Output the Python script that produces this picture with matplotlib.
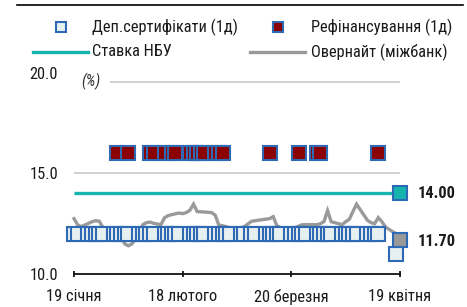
import matplotlib
matplotlib.use("Agg")
import matplotlib.pyplot as plt
import matplotlib.dates as mdates
from matplotlib import font_manager
from matplotlib.ft2font import FT2Font
from matplotlib.lines import Line2D
import pandas as pd


def pick_font():
    prefs = ["Roboto Condensed", "PT Sans Narrow", "Arial Narrow", "Liberation Sans Narrow",
             "Fira Sans Condensed", "IBM Plex Sans Condensed", "Open Sans Condensed",
             "Encode Sans Condensed", "Archivo Narrow", "Asap Condensed", "Barlow Condensed",
             "Barlow Semi Condensed", "Noto Sans", "Open Sans", "Roboto"]
    cands = {}
    for f in font_manager.fontManager.ttflist:
        if f.style != "normal":
            continue
        try:
            cm = FT2Font(f.fname).get_charmap()
        except Exception:
            continue
        if ord("ф") not in cm or ord("і") not in cm:
            continue
        cands.setdefault((f.name, f.stretch), []).append(f)
    for p in prefs:
        for (n, s), fl in cands.items():
            if n == p and s != "normal":
                return n, s
        for (n, s), fl in cands.items():
            if n == p and ("Narrow" in n or "Condensed" in n):
                return n, s
    for (n, s), fl in cands.items():
        if "condensed" in str(s) or "Narrow" in n or "Condensed" in n:
            return n, s
    return "DejaVu Sans", "condensed"


FONT, STRETCH = pick_font()
plt.rcParams['font.family'] = [FONT, 'DejaVu Sans']
plt.rcParams['font.stretch'] = STRETCH

# ---------------- data ----------------
start_date = "2017-01-19"
end_date = "2017-04-19"
tick_dates = ["2017-01-19", "2017-02-18", "2017-03-20", "2017-04-19"]
tick_labels = ["19 січня", "18 лютого", "20 березня", "19 квітня"]
y_ticks = [10.0, 15.0, 20.0]
y_tick_labels = ["10.0", "15.0", "20.0"]

# Deposit certificates (1d): business days, rate 12.0, then 11.0 at the end
cd_holidays = ["2017-03-08"]
cd_first, cd_last = "2017-01-19", "2017-04-13"
cd_rate = 12.0
cd_end_date, cd_end_rate = "2017-04-18", 11.0

# Refinancing (1d) at 16.0
refi_dates = ["2017-01-31", "2017-02-03", "2017-02-09", "2017-02-10", "2017-02-13",
              "2017-02-15", "2017-02-16", "2017-02-20", "2017-02-21", "2017-02-22",
              "2017-02-23", "2017-02-24", "2017-02-27", "2017-02-28", "2017-03-01",
              "2017-03-14", "2017-03-22", "2017-03-27", "2017-03-28", "2017-04-13"]
refi_rate = 16.0

# NBU key rate
nbu_rate = 14.00

# Overnight interbank
on_dates = ["2017-01-19", "2017-01-20", "2017-01-21", "2017-01-24", "2017-01-25",
            "2017-01-26", "2017-01-27", "2017-01-30", "2017-02-01", "2017-02-02",
            "2017-02-03", "2017-02-04", "2017-02-06", "2017-02-07", "2017-02-08",
            "2017-02-09", "2017-02-10", "2017-02-12", "2017-02-13", "2017-02-14",
            "2017-02-15", "2017-02-17", "2017-02-18", "2017-02-19", "2017-02-20",
            "2017-02-21", "2017-02-22", "2017-02-24", "2017-02-26", "2017-02-27",
            "2017-02-28", "2017-03-01", "2017-03-03", "2017-03-06", "2017-03-07",
            "2017-03-09", "2017-03-12", "2017-03-14", "2017-03-15", "2017-03-16",
            "2017-03-17", "2017-03-21", "2017-03-23", "2017-03-27", "2017-03-28",
            "2017-03-29", "2017-03-30", "2017-03-31", "2017-04-03", "2017-04-04",
            "2017-04-05", "2017-04-06", "2017-04-07", "2017-04-10", "2017-04-11",
            "2017-04-12", "2017-04-13", "2017-04-14", "2017-04-15", "2017-04-17",
            "2017-04-18", "2017-04-19"]
on_values = [12.75, 12.45, 12.35, 12.60, 12.65,
             12.62, 12.30, 12.10, 11.90, 11.50,
             11.40, 11.50, 12.00, 12.45, 12.55,
             12.58, 12.52, 12.45, 12.80, 12.90,
             12.95, 13.03, 13.00, 13.05, 13.17,
             13.47, 13.10, 13.08, 13.05, 12.92,
             12.42, 12.40, 12.30, 12.30, 12.35,
             12.62, 12.70, 12.75, 12.85, 12.40,
             12.30, 12.30, 12.45, 12.45, 12.50,
             12.60, 13.15, 12.60, 12.45, 12.60,
             12.72, 13.10, 13.47, 12.67, 12.55,
             12.50, 12.80, 12.60, 12.33, 12.10,
             12.00, 11.70]
on_end_label = "11.70"
nbu_end_label = "14.00"

legend_labels = ["Деп.сертифікати (1д)", "Рефінансування (1д)", "Ставка НБУ",
                 "Овернайт (міжбанк)"]

# ---------------- styling ----------------
BLUE_EDGE = "#2f69b3"
CD_FACE = "#e7f0f1"
REFI_FACE = "#8b0000"
TEAL = "#14b5ae"
GREY = "#9a9a9a"
TXT = "#1a1a1a"

start = pd.Timestamp(start_date)
end = pd.Timestamp(end_date)
cd_dates = pd.bdate_range(cd_first, cd_last, freq="C", holidays=cd_holidays)

fig = plt.figure(figsize=(4.67, 3.07), dpi=100)

# fit font size so the first legend label is ~146 px wide (as in the reference)
renderer = fig.canvas.get_renderer()
probe = fig.text(0, 0, legend_labels[0], fontsize=12)
w = probe.get_window_extent(renderer).width
probe.remove()
FS = max(9.0, min(13.0, 12 * 146.0 / w))

ax = fig.add_axes([0.1197, 0.1075, 0.8144, 0.6883])

# gridlines
ax.hlines(15, start, end, color="#cfcfcf", lw=1.3, zorder=1)
ax.hlines(19.55, start + pd.Timedelta(days=10), end, color="#cfcfcf", lw=1.3, zorder=1)

# NBU rate
ax.hlines(nbu_rate, start, end - pd.Timedelta(days=2), color=TEAL, lw=2.4, zorder=2)
# Overnight
ax.plot(pd.to_datetime(on_dates), on_values, color=GREY, lw=2.4, zorder=2,
        solid_joinstyle="miter")

ms, mew = 10.5, 1.5
ax.plot(cd_dates, [cd_rate] * len(cd_dates), ls="none", marker="s", ms=ms, mew=mew,
        mfc=CD_FACE, mec=BLUE_EDGE, zorder=3)
ax.plot(pd.to_datetime(refi_dates), [refi_rate] * len(refi_dates), ls="none", marker="s",
        ms=ms, mew=mew, mfc=REFI_FACE, mec=BLUE_EDGE, zorder=3)
ax.plot([pd.Timestamp(cd_end_date)], [cd_end_rate], ls="none", marker="s", ms=ms, mew=mew,
        mfc=CD_FACE, mec=BLUE_EDGE, zorder=4)
ax.plot([end], [on_values[-1]], ls="none", marker="s", ms=ms, mew=mew,
        mfc=GREY, mec=BLUE_EDGE, zorder=5)
ax.plot([end], [nbu_rate], ls="none", marker="s", ms=ms, mew=mew,
        mfc=TEAL, mec=BLUE_EDGE, zorder=5)

ax.annotate(nbu_end_label, xy=(end, nbu_rate), xytext=(13, 0), textcoords="offset points",
            ha="left", va="center", fontsize=FS, fontweight="bold", color=TXT)
ax.annotate(on_end_label, xy=(end, on_values[-1]), xytext=(13, -1), textcoords="offset points",
            ha="left", va="center", fontsize=FS, fontweight="bold", color=TXT)

ax.text(start + pd.Timedelta(days=4.7), 19.55, "(%)", fontsize=FS * 0.95, style="italic",
        color="#333333", ha="center", va="center")

# axes
ax.set_xlim(start - pd.Timedelta(days=5), start + pd.Timedelta(days=100))
ax.set_ylim(10, 20.5)
for s in ["left", "top", "right"]:
    ax.spines[s].set_visible(False)
ax.spines["bottom"].set_bounds(mdates.date2num(start), mdates.date2num(end))
ax.spines["bottom"].set_linewidth(1.3)
ax.spines["bottom"].set_color("#111111")
ax.set_xticks(pd.to_datetime(tick_dates))
ax.set_xticklabels(tick_labels, fontsize=FS, color=TXT)
ax.tick_params(axis="x", direction="inout", length=5, width=1.2, pad=8)
ax.set_yticks(y_ticks)
ax.set_yticklabels(y_tick_labels, fontsize=FS, color=TXT)
ax.tick_params(axis="y", length=0, pad=-1.5)

# legend (manual)
y1, y2 = 1 - 27 / 307, 1 - 52 / 307
fig.add_artist(Line2D([61 / 467], [y1], transform=fig.transFigure, ls="none", marker="s",
                      ms=6.5, mew=1.5, mfc=CD_FACE, mec=BLUE_EDGE))
fig.text(92 / 467, y1, legend_labels[0], fontsize=FS, color=TXT, va="center")
fig.add_artist(Line2D([278 / 467], [y1], transform=fig.transFigure, ls="none", marker="s",
                      ms=6.5, mew=1.5, mfc=REFI_FACE, mec=BLUE_EDGE))
fig.text(311 / 467, y1, legend_labels[1], fontsize=FS, color=TXT, va="center")
fig.add_artist(Line2D([33 / 467, 88 / 467], [y2, y2], transform=fig.transFigure,
                      color=TEAL, lw=2.4))
fig.text(92 / 467, y2, legend_labels[2], fontsize=FS, color=TXT, va="center")
fig.add_artist(Line2D([250 / 467, 305 / 467], [y2, y2], transform=fig.transFigure,
                      color=GREY, lw=2.4))
fig.text(311 / 467, y2, legend_labels[3], fontsize=FS, color=TXT, va="center")

# top rule
fig.add_artist(Line2D([17 / 467, 463 / 467], [1 - 5 / 307, 1 - 5 / 307],
                      transform=fig.transFigure, color="black", lw=1.2))

fig.savefig("out.png", dpi=100)
